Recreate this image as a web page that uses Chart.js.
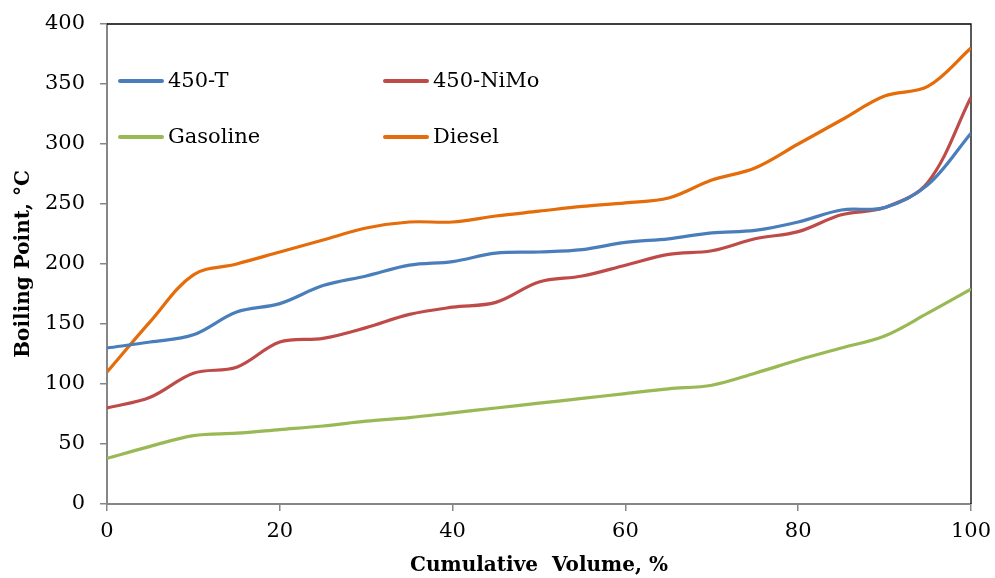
<!DOCTYPE html>
<html>
<head>
<meta charset="utf-8">
<script src="https://cdn.jsdelivr.net/npm/chart.js@4/dist/chart.umd.min.js"></script>
<style>
  html, body { margin: 0; padding: 0; background: #fff; }
  #wrap { width: 995px; height: 578px; }
</style>
</head>
<body>
<div id="wrap"><canvas id="c" width="995" height="578"></canvas></div>
<script>
const volume   = [0, 5, 10, 15, 20, 25, 30, 35, 40, 45, 50, 55, 60, 65, 70, 75, 80, 85, 90, 95, 100];
const t450     = [130, 135, 141, 160, 167, 182, 190, 199, 202, 209, 210, 212, 218, 221, 226, 228, 235, 245, 247, 266, 309];
const nimo450  = [80, 89, 109, 114, 135, 138, 147, 158, 164, 168, 185, 190, 199, 208, 211, 221, 227, 241, 247, 268, 339];
const gasoline = [38, 48, 57, 59, 62, 65, 69, 72, 76, 80, 84, 88, 92, 96, 99, 109, 120, 130, 140, 159, 179];
const diesel   = [110, 152, 191, 200, 210, 220, 230, 235, 235, 240, 244, 248, 251, 255, 270, 280, 300, 320, 340, 348, 380];
const seriesNames = ['450-T', '450-NiMo', 'Gasoline', 'Diesel'];
const yTicks = [0, 50, 100, 150, 200, 250, 300, 350, 400];
const xTicks = [0, 20, 40, 60, 80, 100];

const colors = ['#4A7EBB', '#BE4B48', '#98B954', '#E46C0A'];
const allSeries = [t450, nimo450, gasoline, diesel];

const toPts = arr => volume.map((v, i) => ({ x: v, y: arr[i] }));

const FONT = "'DejaVu Serif', 'Liberation Serif', serif";

const legendPos = [
  { x: 119, y: 81 }, { x: 384, y: 81 },
  { x: 119, y: 137 }, { x: 384, y: 137 }
];

const insideLegend = {
  id: 'insideLegend',
  afterDatasetsDraw(chart) {
    const ctx = chart.ctx;
    ctx.save();
    chart.data.datasets.forEach((ds, i) => {
      const p = legendPos[i];
      ctx.strokeStyle = ds.borderColor;
      ctx.lineWidth = 4;
      ctx.lineCap = 'round';
      ctx.beginPath();
      ctx.moveTo(p.x + 1, p.y);
      ctx.lineTo(p.x + 43, p.y);
      ctx.stroke();
      ctx.fillStyle = '#000';
      ctx.font = '21px ' + FONT;
      ctx.textBaseline = 'middle';
      ctx.textAlign = 'left';
      ctx.fillText(ds.label, p.x + 49, p.y + 1);
    });
    ctx.restore();
  }
};

const frame = {
  id: 'frame',
  beforeDatasetsDraw(chart) {
    const { ctx, chartArea: a } = chart;
    ctx.save();
    ctx.strokeStyle = '#000';
    ctx.lineWidth = 1.3;
    ctx.beginPath();
    ctx.moveTo(a.left, a.top);
    ctx.lineTo(a.right, a.top);
    ctx.lineTo(a.right, a.bottom);
    ctx.stroke();
    ctx.restore();
  }
};

const zeroPad = s => { s.paddingTop = 0; s.paddingBottom = 0; s.paddingLeft = 0; s.paddingRight = 0; };

new Chart(document.getElementById('c'), {
  type: 'line',
  data: {
    datasets: allSeries.map((arr, i) => ({
      label: seriesNames[i],
      data: toPts(arr),
      borderColor: colors[i],
      backgroundColor: colors[i],
      borderWidth: 3.2,
      pointRadius: 0,
      tension: 0.35,
      fill: false
    }))
  },
  options: {
    responsive: false,
    animation: false,
    devicePixelRatio: 1,
    layout: { padding: { left: 0, right: 24, top: 24, bottom: 0 } },
    plugins: { legend: { display: false }, tooltip: { enabled: false } },
    scales: {
      x: {
        type: 'linear',
        min: 0, max: 100,
        afterFit: s => { s.height = 74; zeroPad(s); },
        afterBuildTicks: s => { s.ticks = xTicks.map(v => ({ value: v })); },
        grid: { display: true, drawOnChartArea: false, drawTicks: true, tickLength: 7, color: '#868686', lineWidth: 1.5 },
        border: { display: true, color: '#868686', width: 2 },
        ticks: { color: '#000', font: { family: FONT, size: 21 }, padding: 8, maxRotation: 0 },
        title: { display: true, text: 'Cumulative  Volume, %', color: '#000', font: { family: FONT, size: 20, weight: 'bold' }, padding: { top: 0, bottom: 0 } }
      },
      y: {
        min: 0, max: 400,
        afterFit: s => { s.width = 107; zeroPad(s); },
        afterBuildTicks: s => { s.ticks = yTicks.map(v => ({ value: v })); },
        grid: { display: true, drawOnChartArea: false, drawTicks: true, tickLength: 7, color: '#868686', lineWidth: 1.5 },
        border: { display: true, color: '#868686', width: 2 },
        ticks: { color: '#000', font: { family: FONT, size: 21 }, padding: 15 },
        title: { display: true, text: 'Boiling Point, °C', color: '#000', font: { family: FONT, size: 20, weight: 'bold' }, padding: { top: 12, bottom: 0 } }
      }
    }
  },
  plugins: [frame, insideLegend]
});
</script>
</body>
</html>
